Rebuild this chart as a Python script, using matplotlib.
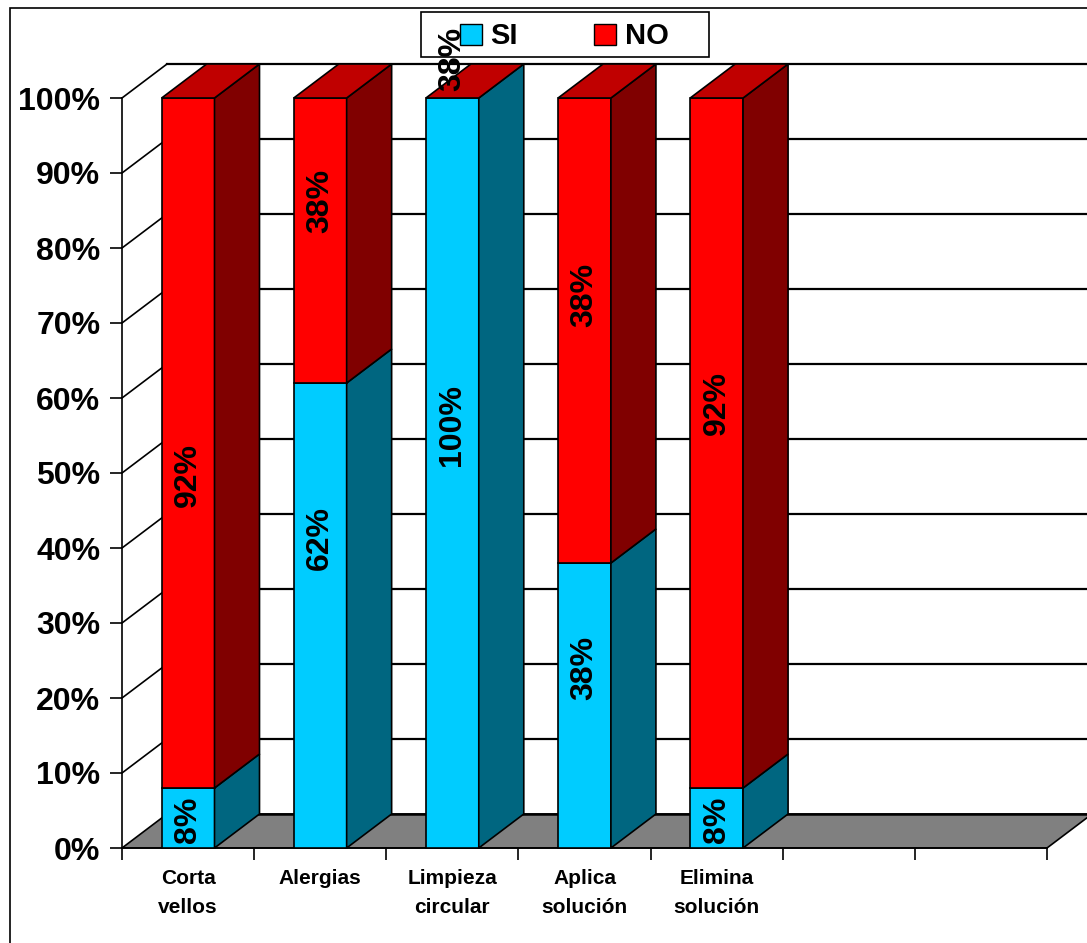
import matplotlib.pyplot as plt
from matplotlib.patches import Polygon, Rectangle, Patch
import numpy as np

plt.rcParams['font.family'] = ['Liberation Sans', 'DejaVu Sans']
plt.rcParams['font.weight'] = 'bold'

# ----------------------------
# Data
# ----------------------------
categories = ['Corta\nvellos', 'Alergias', 'Limpieza\ncircular',
              'Aplica\nsolución', 'Elimina\nsolución']
si_values = [8, 62, 100, 38, 8]
no_values = [92, 38, 0, 62, 92]
si_labels = ['8%', '62%', '100%', '38%', '8%']
no_labels = ['92%', '38%', '38%', '38%', '92%']
n_slots = 7  # the category axis keeps two empty slots on the right

# where each value label sits (in % of the axis)
si_label_y = [3.8, 41.3, 56.4, 24.0, 3.8]
no_label_y = [49.7, 86.3, 105.2, 73.7, 59.3]

# colours: front / side / top
si_col = ('#00CCFF', '#006680', '#00A3CC')
no_col = ('#FF0000', '#800000', '#C00000')
floor_col = '#808080'

W, H = 1087, 943
fig = plt.figure(figsize=(W / 100, H / 100), dpi=100)
ax = fig.add_axes([122 / W, (H - 848) / H, 925 / W, 750 / H])
ax.set_xlim(0, n_slots)
ax.set_ylim(0, 100)

# depth offset of the 3D box, pixel -> data units
ddx = 45 / (925 / n_slots)
ddy = 34 / 7.5
lw = 1.2
bar_w = 0.40

# ----------------------------
# Walls and floor
# ----------------------------
for v in range(10, 101, 10):
    ax.plot([0, ddx], [v, v + ddy], color='black', lw=lw, clip_on=False, zorder=1)
    ax.plot([ddx, n_slots + ddx], [v + ddy, v + ddy], color='black', lw=1.6,
            clip_on=False, zorder=1)

floor = Polygon([(0, 0), (n_slots, 0), (n_slots + ddx, ddy), (ddx, ddy)],
                closed=True, facecolor=floor_col, edgecolor='black', lw=lw,
                clip_on=False, zorder=2)
ax.add_patch(floor)
ax.plot([ddx, n_slots + ddx], [ddy, ddy], color='black', lw=1.8,
        clip_on=False, zorder=2)

# ----------------------------
# 3D stacked bars
# ----------------------------
def draw_segment(xc, bottom, height, cols, top=False):
    x0, x1 = xc - bar_w / 2, xc + bar_w / 2
    if height > 0:
        ax.bar(xc, height, width=bar_w, bottom=bottom, color=cols[0],
               edgecolor='black', linewidth=lw, zorder=4, clip_on=False)
        side = Polygon([(x1, bottom), (x1 + ddx, bottom + ddy),
                        (x1 + ddx, bottom + height + ddy), (x1, bottom + height)],
                       closed=True, facecolor=cols[1], edgecolor='black',
                       lw=lw, clip_on=False, zorder=4)
        ax.add_patch(side)
    if top:
        t = bottom + height
        cap = Polygon([(x0, t), (x1, t), (x1 + ddx, t + ddy), (x0 + ddx, t + ddy)],
                      closed=True, facecolor=cols[2], edgecolor='black',
                      lw=lw, clip_on=False, zorder=4)
        ax.add_patch(cap)


x = np.arange(len(categories)) + 0.5
for i, xc in enumerate(x):
    draw_segment(xc, 0, si_values[i], si_col)
    draw_segment(xc, si_values[i], no_values[i], no_col, top=True)
    ax.text(xc, si_label_y[i], si_labels[i], rotation=90, ha='center',
            va='center', fontsize=23, fontweight='bold', zorder=10)
    ax.text(xc, no_label_y[i], no_labels[i], rotation=90, ha='center',
            va='center', fontsize=23, fontweight='bold', zorder=10,
            clip_on=False)

# ----------------------------
# Axes and ticks
# ----------------------------
for s in ['top', 'right']:
    ax.spines[s].set_visible(False)
for s in ['left', 'bottom']:
    ax.spines[s].set_linewidth(lw)
    ax.spines[s].set_zorder(3)

ax.set_yticks(range(0, 101, 10))
ax.set_yticklabels([f'{v}%' for v in range(0, 101, 10)])
ax.tick_params(axis='y', length=8.6, width=lw, pad=7, labelsize=23)

ax.set_xticks(range(n_slots + 1))
ax.set_xticklabels([])
ax.set_xticks(x, minor=True)
ax.set_xticklabels(categories, minor=True, fontsize=15, fontweight='bold',
                   linespacing=1.7)
ax.tick_params(axis='x', which='major', length=8.6, width=lw)
ax.tick_params(axis='x', which='minor', length=0, pad=15)
ax.patch.set_visible(False)

# ----------------------------
# Legend and chart border
# ----------------------------
handles = [Patch(facecolor=si_col[0], edgecolor='black', label='SI'),
           Patch(facecolor=no_col[0], edgecolor='black', label='NO')]
fig.legend(handles=handles, loc='center left', ncol=2, frameon=False,
           bbox_to_anchor=(460 / W, 1 - 36.5 / H), borderpad=0,
           borderaxespad=0, handlelength=0.75, handleheight=0.75,
           handletextpad=0.3, columnspacing=2.6,
           prop={'weight': 'bold', 'size': 21})
fig.patches.append(Rectangle((421 / W, 1 - 57 / H), 288 / W, 45 / H,
                             transform=fig.transFigure, facecolor='white',
                             edgecolor='black', lw=lw, zorder=-1))
fig.patches.append(Rectangle((9.5 / W, -0.1), 1.1, 1.1 - 8 / H,
                             transform=fig.transFigure, facecolor='none',
                             edgecolor='black', lw=lw, zorder=-1))

plt.savefig('out.png', dpi=100)
